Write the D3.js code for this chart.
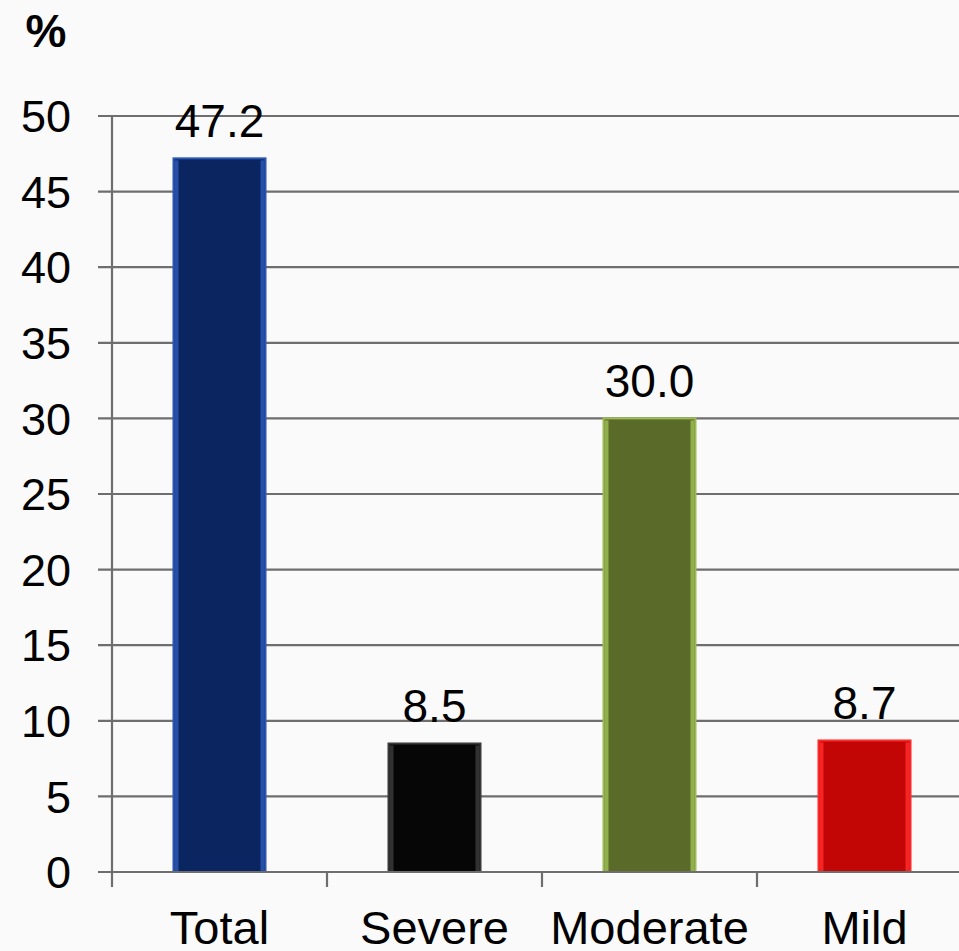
<!DOCTYPE html>
<html>
<head>
<meta charset="utf-8">
<script src="https://cdn.jsdelivr.net/npm/d3@7"></script>
<style>
html,body{margin:0;padding:0;background:#fafafa;}
svg{display:block;}
text{font-family:"Liberation Sans",Arial,sans-serif;fill:#000;}
</style>
</head>
<body>
<svg id="chart" width="959" height="951"></svg>
<script>
const categories = ["Total", "Severe", "Moderate", "Mild"];
const values = [47.2, 8.5, 30.0, 8.7];
const valueLabels = ["47.2", "8.5", "30.0", "8.7"];
const yTicks = [0, 5, 10, 15, 20, 25, 30, 35, 40, 45, 50];
const fills = ["#0a2560", "#060606", "#5a6a29", "#c20606"];
const edges = ["#2d57b5", "#3a3a3a", "#9cbb55", "#ff2a2a"];
const yUnit = "%";

const svg = d3.select("#chart");
const W = 959, H = 951;
const mLeft = 112, mRight = 972, mTop = 116, mBottom = 872;

svg.append("rect").attr("width", W).attr("height", H).attr("fill", "#fafafa");

const x = d3.scaleBand().domain(categories).range([mLeft, mRight])
  .paddingInner(0.572).paddingOuter(0.286);
const y = d3.scaleLinear().domain([0, 50]).range([mBottom, mTop]);

// gridlines (extend left as ticks)
svg.append("g").selectAll("line").data(yTicks).join("line")
  .attr("x1", 98).attr("x2", W)
  .attr("y1", d => y(d)).attr("y2", d => y(d))
  .attr("stroke", "#6e6e6e").attr("stroke-width", 2.2);

// y axis line
svg.append("line").attr("x1", mLeft).attr("x2", mLeft)
  .attr("y1", y(50)).attr("y2", y(0))
  .attr("stroke", "#6e6e6e").attr("stroke-width", 2.2);

// y tick labels
svg.append("g").selectAll("text").data(yTicks).join("text")
  .attr("x", 71).attr("y", d => y(d)).attr("dy", "0.36em")
  .attr("text-anchor", "end").attr("font-size", 45)
  .text(d => d);

// % label
svg.append("text").attr("x", 46).attr("y", 47).attr("text-anchor", "middle")
  .attr("font-size", 46).attr("font-weight", "bold").text(yUnit);

// bars
const bars = svg.append("g").selectAll("g").data(categories).join("g");
bars.append("rect")
  .attr("x", d => x(d)).attr("width", x.bandwidth())
  .attr("y", (d, i) => y(values[i])).attr("height", (d, i) => y(0) - y(values[i]))
  .attr("fill", (d, i) => fills[i])
  .attr("stroke", (d, i) => edges[i]).attr("stroke-width", 2);
bars.append("rect")
  .attr("x", d => x(d) + 1).attr("width", 4)
  .attr("y", (d, i) => y(values[i]) + 2).attr("height", (d, i) => y(0) - y(values[i]) - 2)
  .attr("fill", (d, i) => edges[i]).attr("opacity", 0.85);
bars.append("rect")
  .attr("x", d => x(d) + x.bandwidth() - 5).attr("width", 4)
  .attr("y", (d, i) => y(values[i]) + 2).attr("height", (d, i) => y(0) - y(values[i]) - 2)
  .attr("fill", (d, i) => edges[i]).attr("opacity", 0.85);

// x axis line over bars
svg.append("line").attr("x1", 98).attr("x2", W)
  .attr("y1", y(0)).attr("y2", y(0))
  .attr("stroke", "#6e6e6e").attr("stroke-width", 2.2);

// category tick marks
const tickXs = d3.range(categories.length + 1).map(i => mLeft + i * x.step());
svg.append("g").selectAll("line").data(tickXs).join("line")
  .attr("x1", d => d).attr("x2", d => d)
  .attr("y1", y(0)).attr("y2", y(0) + 15)
  .attr("stroke", "#6e6e6e").attr("stroke-width", 2.2);

// value labels
svg.append("g").selectAll("text").data(categories).join("text")
  .attr("x", d => x(d) + x.bandwidth() / 2)
  .attr("y", (d, i) => y(values[i]) - 21)
  .attr("text-anchor", "middle").attr("font-size", 46)
  .text((d, i) => valueLabels[i]);

// category labels
svg.append("g").selectAll("text").data(categories).join("text")
  .attr("x", d => x(d) + x.bandwidth() / 2)
  .attr("y", 944)
  .attr("text-anchor", "middle").attr("font-size", 47)
  .text(d => d);
</script>
</body>
</html>
